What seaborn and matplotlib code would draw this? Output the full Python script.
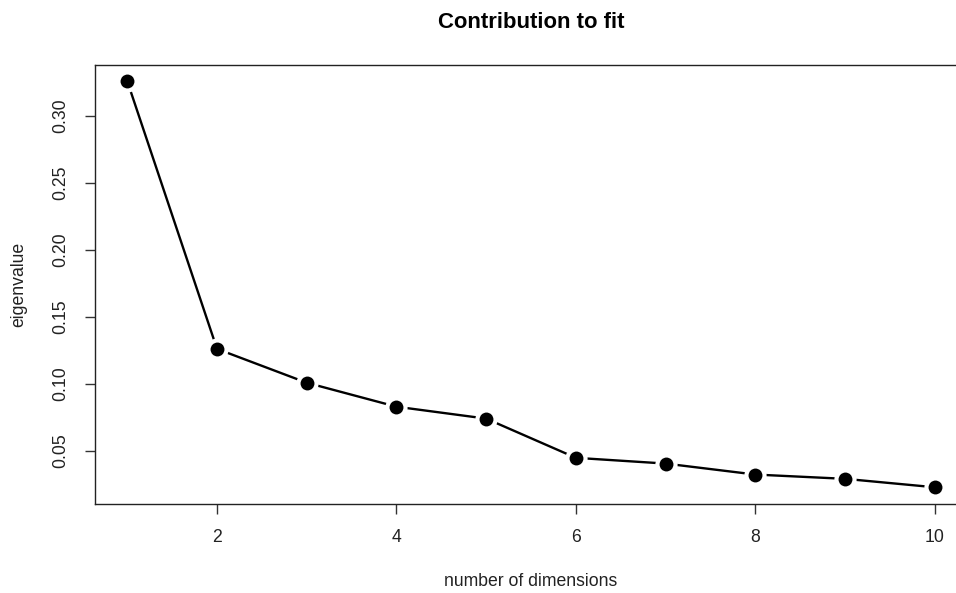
import matplotlib
matplotlib.use("Agg")
import matplotlib.pyplot as plt
import seaborn as sns
import pandas as pd

dimensions = [1, 2, 3, 4, 5, 6, 7, 8, 9, 10]
eigenvalues = [0.326, 0.126, 0.1007, 0.0828, 0.0739, 0.0446, 0.0403, 0.0321, 0.0289, 0.0226]
x_ticks = [2, 4, 6, 8, 10]
y_ticks = [0.05, 0.10, 0.15, 0.20, 0.25, 0.30]
y_ticklabels = ["0.05", "0.10", "0.15", "0.20", "0.25", "0.30"]

sns.set_theme(style="white")
plt.rcParams["font.family"] = ["Liberation Sans", "DejaVu Sans"]

df = pd.DataFrame({"dim": dimensions, "eig": eigenvalues})

W, H = 956, 593
fig = plt.figure(figsize=(W / 100, H / 100), dpi=100)
left, right, top, bottom = 95, 967, 65, 503.5
ax = fig.add_axes([left / W, (H - bottom) / H, (right - left) / W, (bottom - top) / H])

sns.lineplot(data=df, x="dim", y="eig", ax=ax, color="black", linewidth=1.7, zorder=1)
sns.scatterplot(data=df, x="dim", y="eig", ax=ax, color="white", s=16 ** 2, linewidth=0, zorder=2)
sns.scatterplot(data=df, x="dim", y="eig", ax=ax, color="black", s=10 ** 2, linewidth=0, zorder=3)

xr = max(dimensions) - min(dimensions)
yr = max(eigenvalues) - min(eigenvalues)
ax.set_xlim(min(dimensions) - 0.04 * xr, max(dimensions) + 0.04 * xr)
ax.set_ylim(min(eigenvalues) - 0.04 * yr, max(eigenvalues) + 0.04 * yr)

ax.set_xticks(x_ticks)
ax.set_yticks(y_ticks)
ax.set_yticklabels(y_ticklabels, rotation=90, va="center")
ax.tick_params(axis="both", direction="out", length=7.5, width=1, color="#333333",
               labelsize=12.7, labelcolor="#222222", bottom=True, left=True)
ax.tick_params(axis="x", pad=11)
ax.tick_params(axis="y", pad=11)

for side in ["left", "bottom", "top", "right"]:
    ax.spines[side].set_visible(True)
    ax.spines[side].set_color("#222222")
    ax.spines[side].set_linewidth(1.0)

ax.set_xlabel("")
ax.set_ylabel("")
fig.text((left + right) / 2 / W, 1 - 581 / H, "number of dimensions", ha="center", va="center",
         fontsize=12.7, color="#222222")
fig.text(19 / W, 1 - 284 / H, "eigenvalue", ha="center", va="center", rotation=90,
         fontsize=12.7, color="#222222")
fig.text((left + right) / 2 / W, 1 - 23 / H, "Contribution to fit", ha="center", va="center",
         fontsize=15.9, fontweight="bold", color="black")

fig.savefig("out.png", dpi=100)
